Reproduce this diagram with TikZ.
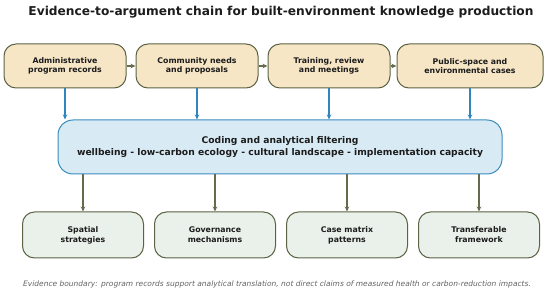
\documentclass[tikz,border=0pt]{standalone}
\usepackage{fontspec}
\setmainfont{DejaVu Sans}
\usepackage{xcolor}
\usepackage{tikz}
\usetikzlibrary{positioning, arrows.meta}

\definecolor{srcfill}{HTML}{F6E6C6}
\definecolor{srcdraw}{HTML}{5C6344}
\definecolor{midfill}{HTML}{D8EAF4}
\definecolor{middraw}{HTML}{3A8DBF}
\definecolor{outfill}{HTML}{EAF0EA}
\definecolor{outdraw}{HTML}{5C6344}
\definecolor{inarrow}{HTML}{2F86BE}
\definecolor{outarrow}{HTML}{666B4C}
\definecolor{inktext}{HTML}{1C1C1C}

\tikzset{
  srcbox/.style={draw=srcdraw, fill=srcfill, line width=1pt, rounded corners=12pt,
    minimum width=122pt, minimum height=44pt, align=center, text=inktext,
    font=\fontsize{7.8}{9.5}\selectfont\bfseries},
  midbox/.style={draw=middraw, fill=midfill, line width=1pt, rounded corners=15pt,
    minimum width=444pt, minimum height=54pt, align=center, text=inktext,
    font=\fontsize{9.2}{12}\selectfont\bfseries},
  outbox/.style={draw=outdraw, fill=outfill, line width=1pt, rounded corners=12pt,
    minimum width=121pt, minimum height=46pt, align=center, text=inktext,
    font=\fontsize{7.8}{10}\selectfont\bfseries},
  chain/.style={draw=outarrow, line width=1.3pt, -{Stealth[length=5pt,width=4.5pt]}},
  feed/.style={draw=inarrow, line width=1.2pt, -{Stealth[length=5pt,width=4.5pt]}},
  yield/.style={draw=outarrow, line width=1.3pt, -{Stealth[length=5pt,width=4.5pt]}}
}

\begin{document}
\begin{tikzpicture}[x=1pt, y=-1pt]
  \useasboundingbox (0,0) rectangle (550,294);

  \node[font=\fontsize{12.2}{14}\selectfont\bfseries, text=inktext] (title) at (281,12)
    {Evidence-to-argument chain for built-environment knowledge production};

  % evidence sources
  \node[srcbox] (admin) at (65,66) {Administrative\\program records};
  \node[srcbox] (needs) at (197,66) {Community needs\\and proposals};
  \node[srcbox] (train) at (329,66) {Training, review\\and meetings};
  \node[srcbox, minimum width=146pt] (cases) at (470,66) {Public-space and\\environmental cases};

  \draw[chain] (admin) -- (needs);
  \draw[chain] (needs) -- (train);
  \draw[chain] (train) -- (cases);

  % coding layer
  \node[midbox] (coding) at (280,147)
    {Coding and analytical filtering\\wellbeing - low-carbon ecology - cultural landscape - implementation capacity};

  \foreach \src in {admin, needs, train, cases}
    \draw[feed] (\src.south) -- (\src.south |- coding.north);

  % outputs
  \node[outbox] (spatial) at (83,235) {Spatial\\strategies};
  \node[outbox] (govern) at (215,235) {Governance\\mechanisms};
  \node[outbox] (matrix) at (347,235) {Case matrix\\patterns};
  \node[outbox] (frame) at (479,235) {Transferable\\framework};

  \foreach \out in {spatial, govern, matrix, frame}
    \draw[yield] (\out.north |- coding.south) -- (\out.north);

  \node[font=\fontsize{7.5}{9}\selectfont\itshape, text=black!62] (note) at (277,284)
    {Evidence boundary: program records support analytical translation, not direct claims of measured health or carbon-reduction impacts.};
\end{tikzpicture}
\end{document}
